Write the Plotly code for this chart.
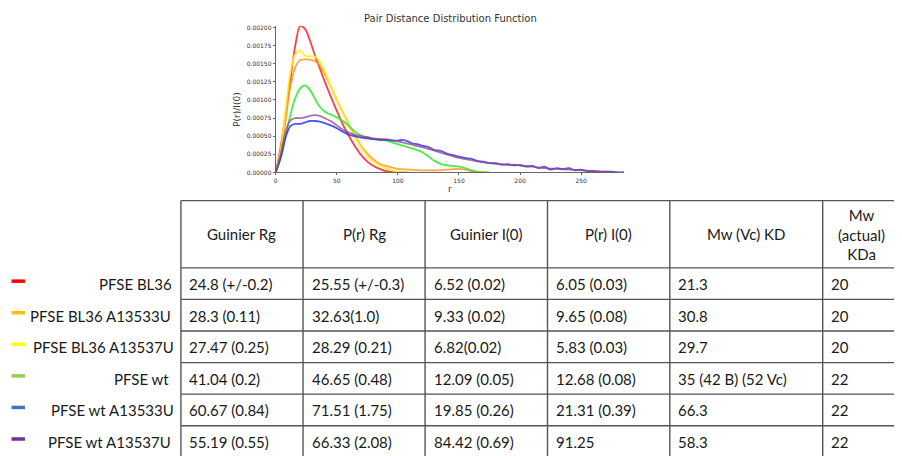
import plotly.graph_objects as go

W, H = 902, 456
OFF = 8  # default page margin of the html body

# ---------------- data: P(r)/I(0) curves ----------------
r_bl36 = [0, 4, 8, 12, 16, 20, 24, 28, 32, 36, 40, 45, 50, 55, 60, 65, 70, 75, 80, 85, 90, 95, 100, 104, 108]
p_bl36 = [0, 0.00035, 0.0008, 0.00128, 0.00175, 0.00202, 0.00198, 0.00182, 0.00162, 0.00144, 0.00126,
          0.00105, 0.00085, 0.00066, 0.0005, 0.00036, 0.00024, 0.00015, 0.00009, 0.00005, 0.00002,
          0.00001, 0.000005, 0.000002, 0]

r_bl36_a13533u = [0, 4, 8, 12, 16, 20, 25, 30, 35, 40, 45, 50, 55, 60, 65, 70, 75, 80, 85, 90, 95, 100,
                  110, 120, 130, 140, 150, 155, 160, 165, 170, 174]
p_bl36_a13533u = [0, 0.00025, 0.0007, 0.00118, 0.00145, 0.00155, 0.00156, 0.00155, 0.0015, 0.00136,
                  0.00119, 0.001, 0.00083, 0.00066, 0.0005, 0.00036, 0.00026, 0.00018, 0.00012, 0.00009,
                  0.00007, 0.00005, 0.00004, 0.00003, 0.00003, 0.00004, 0.00005, 0.00004, 0.00002,
                  0.00001, 0.000003, 0]

r_bl36_a13537u = [0, 4, 8, 12, 16, 20, 24, 28, 32, 36, 40, 45, 50, 55, 60, 65, 70, 75, 80, 85, 90, 95,
                  100, 105, 110]
p_bl36_a13537u = [0, 0.0003, 0.00085, 0.00138, 0.00163, 0.00168, 0.00161, 0.0016, 0.0016, 0.00153,
                  0.0014, 0.0012, 0.00101, 0.00082, 0.00064, 0.00048, 0.00034, 0.00023, 0.00015, 0.0001,
                  0.00006, 0.00003, 0.00001, 0.000003, 0]

r_wt = [0, 5, 10, 15, 20, 24, 28, 32, 36, 40, 45, 50, 55, 60, 65, 70, 75, 80, 90, 100, 110, 120, 125,
        130, 135, 140, 145, 150, 155, 160, 165, 170, 175]
p_wt = [0, 0.00025, 0.00065, 0.00098, 0.00116, 0.0012, 0.00114, 0.00102, 0.00091, 0.00084, 0.0008,
        0.00076, 0.00071, 0.00064, 0.00056, 0.00051, 0.00048, 0.00046, 0.00044, 0.00039, 0.00034,
        0.00028, 0.00022, 0.00016, 0.00012, 0.0001, 0.00009, 0.00008, 0.00006, 0.00003, 0.00001,
        0.000003, 0]

r_wt_a13533u = [0, 4, 8, 12, 16, 20, 24, 28, 32, 36, 40, 45, 50, 55, 60, 65, 70, 75, 80, 85, 90, 95,
                100, 104, 108, 112, 116, 120, 125, 130, 135, 140, 145, 150, 155, 160, 165, 170, 175,
                180, 185, 190, 195, 200, 205, 210, 215, 220, 225, 230, 235, 240, 245, 250, 255, 260,
                265, 270, 275, 280, 285]
p_wt_a13533u = [0, 0.0002, 0.00048, 0.00064, 0.00067, 0.00067, 0.00069, 0.00071, 0.00071, 0.0007,
                0.00068, 0.00065, 0.00061, 0.00056, 0.00052, 0.0005, 0.00048, 0.00047, 0.00046,
                0.00045, 0.00045, 0.00044, 0.00044, 0.00045, 0.00043, 0.0004, 0.00039, 0.00037,
                0.00035, 0.00031, 0.0003, 0.00026, 0.00024, 0.00022, 0.0002, 0.00019, 0.00016,
                0.00015, 0.00013, 0.00013, 0.00011, 0.00011, 0.0001, 0.0001, 0.00008, 0.00009,
                0.00006, 0.00008, 0.00004, 0.00006, 0.00005, 0.00006, 0.00003, 0.00004, 0.00002,
                0.00002, 0.00001, 0.00001, 0.00001, 0, 0]

r_wt_a13537u = [0, 4, 8, 12, 16, 20, 24, 28, 32, 36, 40, 45, 50, 55, 60, 65, 70, 75, 80, 90, 100, 110,
                120, 130, 140, 150, 160, 170, 180, 190, 200, 210, 220, 230, 240, 250, 260, 270, 280, 285]
p_wt_a13537u = [0, 0.00025, 0.00056, 0.00072, 0.00075, 0.00075, 0.00076, 0.00078, 0.00079, 0.00078,
                0.00075, 0.00071, 0.00065, 0.00059, 0.00055, 0.00052, 0.0005, 0.00049, 0.00047,
                0.00046, 0.00043, 0.00039, 0.00035, 0.0003, 0.00025, 0.0002, 0.00017, 0.00014,
                0.00012, 0.00011, 0.0001, 0.00008, 0.00006, 0.00005, 0.00004, 0.00003, 0.00002,
                0.00001, 0.000003, 0]

x_ticks = [0, 50, 100, 150, 200, 250]
y_ticks = [0, 0.00025, 0.0005, 0.00075, 0.001, 0.00125, 0.0015, 0.00175, 0.002]

# ---------------- data: table ----------------
sample_names = ["PFSE BL36", "PFSE BL36 A13533U", "PFSE BL36 A13537U",
                "PFSE wt", "PFSE wt A13533U", "PFSE wt A13537U"]
col_headers = ["Guinier Rg", "P(r) Rg", "Guinier I(0)", "P(r) I(0)", "Mw (Vc) KD",
               "Mw<br>(actual)<br>KDa"]
guinier_rg = ["24.8 (+/-0.2)", "28.3 (0.11)", "27.47 (0.25)", "41.04 (0.2)", "60.67 (0.84)", "55.19 (0.55)"]
pr_rg = ["25.55 (+/-0.3)", "32.63(1.0)", "28.29 (0.21)", "46.65 (0.48)", "71.51 (1.75)", "66.33 (2.08)"]
guinier_i0 = ["6.52 (0.02)", "9.33 (0.02)", "6.82(0.02)", "12.09 (0.05)", "19.85 (0.26)", "84.42 (0.69)"]
pr_i0 = ["6.05 (0.03)", "9.65 (0.08)", "5.83 (0.03)", "12.68 (0.08)", "21.31 (0.39)", "91.25"]
mw_vc = ["21.3", "30.8", "29.7", "35 (42 B) (52 Vc)", "66.3", "58.3"]
mw_actual = ["20", "20", "20", "22", "22", "22"]

# ---------------- styles ----------------
curve_colors = ["rgba(255,30,30,0.85)", "rgba(255,150,40,0.85)", "rgba(255,240,30,0.9)",
                "rgba(40,235,40,0.85)", "rgba(40,40,255,0.8)", "rgba(140,70,130,0.75)"]
marker_colors = ["#ff0000", "#ffc000", "#ffff00", "#92d050", "#4472c4", "#7030a0"]

curves = [(r_bl36, p_bl36), (r_bl36_a13533u, p_bl36_a13533u), (r_bl36_a13537u, p_bl36_a13537u),
          (r_wt, p_wt), (r_wt_a13533u, p_wt_a13533u), (r_wt_a13537u, p_wt_a13537u)]


def px(x):
    return (x - OFF) / W


def py(y):
    return 1 - (y - OFF) / H


fig = go.Figure()
for (rr, pp), c, name in zip(curves, curve_colors, sample_names):
    fig.add_trace(go.Scatter(x=rr, y=pp, mode="lines", name=name,
                             line=dict(color=c, width=1.8, shape="spline", smoothing=0.8),
                             hoverinfo="skip"))

axis_color = "#666666"
tick_font = dict(family="DejaVu Sans", size=6, color="#333333")
fig.update_layout(
    width=W, height=H, margin=dict(l=0, r=0, t=0, b=0),
    paper_bgcolor="white", plot_bgcolor="white", showlegend=False,
    xaxis=dict(domain=[px(274.3), px(623.3)], range=[0, 285], showgrid=False, zeroline=False,
               showline=True, linecolor=axis_color, linewidth=1, ticks="outside", ticklen=2,
               tickcolor=axis_color, tickvals=x_ticks, tickfont=tick_font),
    yaxis=dict(domain=[py(172.3), py(24.2)], range=[0, 0.00202], showgrid=False, zeroline=False,
               showline=True, linecolor=axis_color, linewidth=1, ticks="outside", ticklen=2,
               tickcolor=axis_color, tickvals=y_ticks, tickformat=".5f", tickfont=tick_font),
)

label_font = dict(family="DejaVu Sans", size=9, color="#333333")
anns = []
anns.append(dict(x=px(449), y=py(17), xref="paper", yref="paper", text="Pair Distance Distribution Function",
                 showarrow=False, xanchor="center", yanchor="middle",
                 font=dict(family="DejaVu Sans", size=10, color="#333333")))
anns.append(dict(x=px(235.5), y=py(108), xref="paper", yref="paper", text="P(r)/I(0)", textangle=-90,
                 showarrow=False, xanchor="center", yanchor="middle", font=label_font))
anns.append(dict(x=px(448.7), y=py(189), xref="paper", yref="paper", text="r",
                 showarrow=False, xanchor="center", yanchor="middle", font=label_font))

# ---------------- table geometry ----------------
col_x = [179.3, 301.7, 424.0, 546.7, 669.3, 822.5, 901.2]
row_y = [200.7, 268.7, 300.6, 332.6, 364.5, 396.4, 428.3, 460.2]
line_color = "#555555"
shapes = []
for x in col_x:
    shapes.append(dict(type="line", xref="paper", yref="paper", x0=px(x), x1=px(x),
                       y0=py(row_y[0]), y1=py(row_y[-1]), line=dict(color=line_color, width=1.4)))
for y in row_y:
    shapes.append(dict(type="line", xref="paper", yref="paper", x0=px(col_x[0]), x1=px(col_x[-1]),
                       y0=py(y), y1=py(y), line=dict(color=line_color, width=1.4)))

table_font = dict(family="Lato", size=15, color="#1a1a1a")
for j, h in enumerate(col_headers):
    cx = (col_x[j] + col_x[j + 1]) / 2
    cy = (row_y[0] + row_y[1]) / 2
    anns.append(dict(x=px(cx), y=py(cy), xref="paper", yref="paper", text=h, showarrow=False,
                     xanchor="center", yanchor="middle", font=table_font))

columns = [guinier_rg, pr_rg, guinier_i0, pr_i0, mw_vc, mw_actual]
label_right = [172, 171, 174, 169.5, 174, 171]
for i, name in enumerate(sample_names):
    cy = (row_y[i + 1] + row_y[i + 2]) / 2 + 0.5
    anns.append(dict(x=px(label_right[i]), y=py(cy), xref="paper", yref="paper", text=name,
                     showarrow=False, xanchor="right", yanchor="middle", font=table_font))
    for j, col in enumerate(columns):
        anns.append(dict(x=px(col_x[j] + 6.5), y=py(cy), xref="paper", yref="paper", text=col[i],
                         showarrow=False, xanchor="left", yanchor="middle", font=table_font))
    my = cy - 3
    shapes.append(dict(type="line", xref="paper", yref="paper", x0=px(9.5), x1=px(23),
                       y0=py(my), y1=py(my), line=dict(color=marker_colors[i], width=3.5)))

fig.update_layout(annotations=anns, shapes=shapes)
fig.write_html("out.html")
